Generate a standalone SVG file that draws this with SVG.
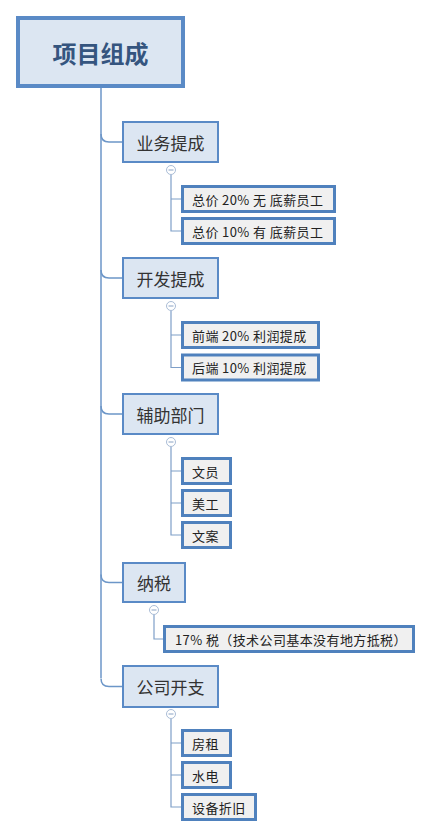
<svg xmlns="http://www.w3.org/2000/svg" width="432" height="838" viewBox="0 0 432 838">
<style>
.root{fill:#dce6f2;stroke:#5a8ac6;stroke-width:4}
.br{fill:#dce6f2;stroke:#5a8ac6;stroke-width:2}
.ch{fill:#f0f0f0;stroke:#4f81bd;stroke-width:3}
.rt{font-family:"Noto Sans CJK SC","Microsoft YaHei",sans-serif;font-size:24px;font-weight:bold;fill:#35557f;text-anchor:middle;dominant-baseline:central}
.bt{font-family:"Noto Sans CJK SC",sans-serif;font-size:17px;fill:#333;text-anchor:middle;dominant-baseline:central}
.ct{font-family:"Noto Sans CJK SC",sans-serif;font-size:13px;fill:#222;dominant-baseline:central;letter-spacing:0.4px}
.ln{fill:none;stroke:#6c96c8;stroke-width:1.5}
.sl{fill:none;stroke:#7f9fc8;stroke-width:1.2}
.cc{fill:#fff;stroke:#a9bcd6;stroke-width:1}
.cm{stroke:#8aa3c4;stroke-width:1}
</style>
<g id="connectors">
<line class="ln" x1="101" y1="88" x2="101" y2="678"/>
<path class="ln" d="M101,134 Q101,142 109,142 L122,142"/>
<path class="ln" d="M101,270 Q101,278 109,278 L122,278"/>
<path class="ln" d="M101,406 Q101,414 109,414 L122,414"/>
<path class="ln" d="M101,574.5 Q101,582.5 109,582.5 L122,582.5"/>
<path class="ln" d="M101,678.5 Q101,686.5 109,686.5 L122,686.5"/>
<path class="sl" d="M171,174.5 V231 H181 M171,199 H181"/>
<path class="sl" d="M171,310.5 V367.5 H181 M171,335 H181"/>
<path class="sl" d="M171,446.5 V535 H181 M171,471 H181 M171,503 H181"/>
<path class="sl" d="M154,614.5 V639 H163"/>
<path class="sl" d="M171,718.5 V807 H181 M171,743 H181 M171,775 H181"/>
<g>
<circle class="cc" cx="171" cy="170" r="4.5"/><line class="cm" x1="168.5" y1="170" x2="173.5" y2="170"/>
<circle class="cc" cx="171" cy="306" r="4.5"/><line class="cm" x1="168.5" y1="306" x2="173.5" y2="306"/>
<circle class="cc" cx="171" cy="442" r="4.5"/><line class="cm" x1="168.5" y1="442" x2="173.5" y2="442"/>
<circle class="cc" cx="154" cy="610" r="4.5"/><line class="cm" x1="151.5" y1="610" x2="156.5" y2="610"/>
<circle class="cc" cx="171" cy="714" r="4.5"/><line class="cm" x1="168.5" y1="714" x2="173.5" y2="714"/>
</g>
</g>
<g id="root"><rect class="root" x="18" y="18" width="165" height="68"/><text class="rt" x="100.5" y="52">项目组成</text></g>
<g id="b1"><rect class="br" x="123" y="122" width="95" height="40"/><text class="bt" x="170.5" y="142">业务提成</text></g>
<g id="b1c1"><rect class="ch" x="182.5" y="186.5" width="152" height="25"/><text class="ct" x="192" y="199">总价 20% 无 底薪员工</text></g>
<g id="b1c2"><rect class="ch" x="182.5" y="218.5" width="152" height="25"/><text class="ct" x="192" y="231">总价 10% 有 底薪员工</text></g>
<g id="b2"><rect class="br" x="123" y="258" width="95" height="40"/><text class="bt" x="170.5" y="278">开发提成</text></g>
<g id="b2c1"><rect class="ch" x="182.5" y="322.5" width="136" height="25"/><text class="ct" x="192" y="335">前端 20% 利润提成</text></g>
<g id="b2c2"><rect class="ch" x="182.5" y="355" width="136" height="25"/><text class="ct" x="192" y="367.5">后端 10% 利润提成</text></g>
<g id="b3"><rect class="br" x="123" y="394" width="95" height="40"/><text class="bt" x="170.5" y="414">辅助部门</text></g>
<g id="b3c1"><rect class="ch" x="182.5" y="458.5" width="48" height="25"/><text class="ct" x="192" y="471">文员</text></g>
<g id="b3c2"><rect class="ch" x="182.5" y="490.5" width="48" height="25"/><text class="ct" x="192" y="503">美工</text></g>
<g id="b3c3"><rect class="ch" x="182.5" y="522.5" width="48" height="25"/><text class="ct" x="192" y="535">文案</text></g>
<g id="b4"><rect class="br" x="123" y="563" width="62" height="39"/><text class="bt" x="154" y="582.5">纳税</text></g>
<g id="b4c1"><rect class="ch" x="164.5" y="626.5" width="249" height="25"/><text class="ct" x="175" y="639">17% 税（技术公司基本没有地方抵税）</text></g>
<g id="b5"><rect class="br" x="123" y="666" width="95" height="41"/><text class="bt" x="170.5" y="686.5">公司开支</text></g>
<g id="b5c1"><rect class="ch" x="182.5" y="730.5" width="48" height="25"/><text class="ct" x="192" y="743">房租</text></g>
<g id="b5c2"><rect class="ch" x="182.5" y="762.5" width="48" height="25"/><text class="ct" x="192" y="775">水电</text></g>
<g id="b5c3"><rect class="ch" x="182.5" y="794.5" width="73" height="25"/><text class="ct" x="192" y="807">设备折旧</text></g>
</svg>
